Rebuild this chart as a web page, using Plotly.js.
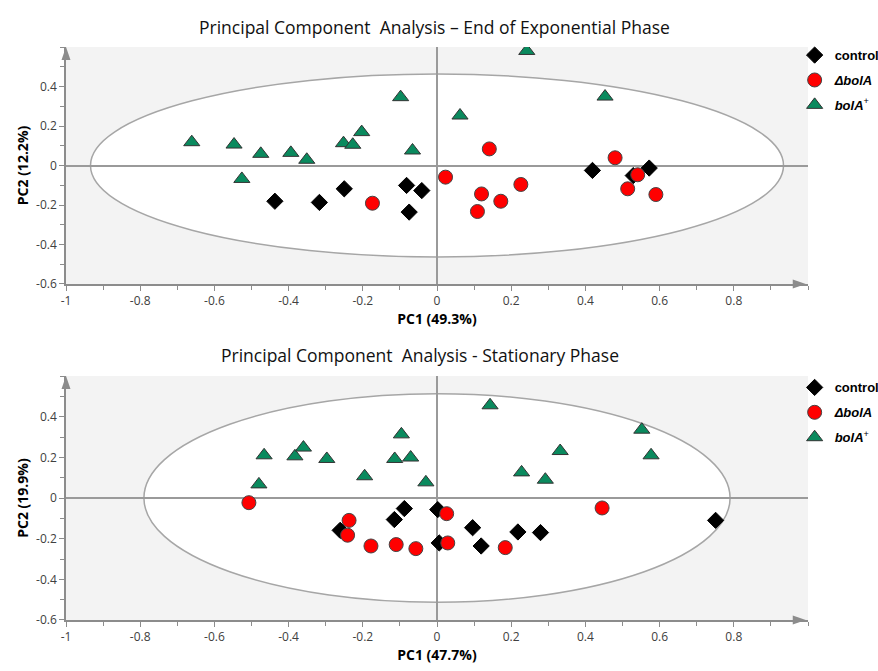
<!DOCTYPE html>
<html>
<head>
<meta charset="utf-8">
<script src="https://cdn.plot.ly/plotly-3.0.1.min.js"></script>
<style>html,body{margin:0;padding:0;background:#fff;}#chart{width:878px;height:671px;}</style>
</head>
<body>
<div id="chart"></div>
<script>
// ---- Series names ----
const seriesNames = ['<b>control</b>', '<b><i>\u0394bolA</i></b>', '<b><i>bolA</i></b><sup>+</sup>'];

// ---- Top panel: End of Exponential Phase ----
const expControlX = [-0.437, -0.317, -0.250, -0.082, -0.041, -0.075, 0.419, 0.572, 0.529];
const expControlY = [-0.181, -0.187, -0.118, -0.101, -0.127, -0.236, -0.025, -0.013, -0.051];
const expDeltaX = [-0.174, 0.023, 0.141, 0.120, 0.109, 0.172, 0.226, 0.480, 0.541, 0.514, 0.590];
const expDeltaY = [-0.191, -0.059, 0.084, -0.144, -0.233, -0.181, -0.096, 0.039, -0.047, -0.118, -0.147];
const expPlusX = [-0.661, -0.547, -0.475, -0.394, -0.351, -0.526, -0.252, -0.227, -0.203, -0.098, -0.066, 0.062, 0.242, 0.453];
const expPlusY = [0.118, 0.106, 0.059, 0.064, 0.029, -0.068, 0.113, 0.105, 0.169, 0.346, 0.076, 0.253, 0.580, 0.349];
const expEllipse = [0.934, 0.463]; // semi-axes (PC1, PC2)

// ---- Bottom panel: Stationary Phase ----
const staControlX = [-0.261, -0.115, -0.088, 0.002, 0.006, 0.096, 0.119, 0.218, 0.279, 0.751];
const staControlY = [-0.159, -0.106, -0.052, -0.057, -0.221, -0.146, -0.236, -0.167, -0.170, -0.110];
const staDeltaX = [-0.507, -0.237, -0.241, -0.178, -0.110, -0.057, 0.026, 0.029, 0.184, 0.445];
const staDeltaY = [-0.023, -0.110, -0.183, -0.236, -0.229, -0.249, -0.077, -0.221, -0.244, -0.049];
const staPlusX = [-0.480, -0.466, -0.383, -0.360, -0.297, -0.195, -0.114, -0.096, -0.071, -0.030, 0.143, 0.228, 0.292, 0.332, 0.552, 0.577];
const staPlusY = [0.067, 0.210, 0.205, 0.248, 0.192, 0.107, 0.192, 0.313, 0.199, 0.077, 0.456, 0.126, 0.090, 0.231, 0.336, 0.210];
const staEllipse = [0.790, 0.513];

// ---- Tick labels ----
const xTickVals = [-1, -0.8, -0.6, -0.4, -0.2, 0, 0.2, 0.4, 0.6, 0.8];
const xTickText = ['-1', '-0.8', '-0.6', '-0.4', '-0.2', '0', '0.2', '0.4', '0.6', '0.8'];
const yTickVals = [-0.6, -0.4, -0.2, 0, 0.2, 0.4];
const yTickText = ['-0.6', '-0.4', '-0.2', '0', '0.2', '0.4'];

const titles = {
  top: 'Principal Component  Analysis \u2013 End of Exponential Phase',
  bottom: 'Principal Component  Analysis - Stationary Phase',
  x1: '<b>PC1 (49.3%)</b>', y1: '<b>PC2 (12.2%)</b>',
  x2: '<b>PC1 (47.7%)</b>', y2: '<b>PC2 (19.9%)</b>'
};

const styles = [
  {symbol: 'diamond', size: 12.5, color: '#000000', line: {color: '#000000', width: 1}},
  {symbol: 'circle', size: 14, color: '#ff0000', line: {color: '#444444', width: 1}},
  {symbol: 'triangle-up', size: 14, color: '#0a8a5e', line: {color: '#333333', width: 1}}
];

function mk(x, y, i, xa, ya, leg) {
  return {
    type: 'scatter', mode: 'markers', x: x, y: y, name: seriesNames[i],
    xaxis: xa, yaxis: ya, legend: leg, legendgroup: leg + i,
    marker: {symbol: styles[i].symbol, size: styles[i].size, color: styles[i].color, line: styles[i].line},
    hoverinfo: 'x+y'
  };
}

const data = [
  mk(expControlX, expControlY, 0, 'x', 'y', 'legend'),
  mk(expDeltaX, expDeltaY, 1, 'x', 'y', 'legend'),
  mk(expPlusX, expPlusY, 2, 'x', 'y', 'legend'),
  mk(staControlX, staControlY, 0, 'x2', 'y2', 'legend2'),
  mk(staDeltaX, staDeltaY, 1, 'x2', 'y2', 'legend2'),
  mk(staPlusX, staPlusY, 2, 'x2', 'y2', 'legend2')
];

const tickFont = {family: 'Open Sans, sans-serif', size: 12, color: '#404040'};
const axTitleFont = {family: 'Open Sans, sans-serif', size: 14, color: '#000'};
const axisColor = '#8c8c8c';

const topDomain = [0.5864, 1];
const bottomDomain = [0, 0.4258];

function xAxis(anchor, title) {
  return {
    anchor: anchor, domain: [0, 1], range: [-1, 1], fixedrange: true,
    tickvals: xTickVals, ticktext: xTickText, ticks: 'outside', ticklen: 5, tickcolor: axisColor, tickwidth: 1,
    minor: {dtick: 0.1, tick0: 0, ticks: 'outside', ticklen: 4, tickcolor: axisColor},
    showgrid: false, zeroline: true, zerolinecolor: '#9a9a9a', zerolinewidth: 1.5,
    showline: true, linecolor: axisColor, linewidth: 1.5,
    tickfont: tickFont, automargin: false,
    title: {text: title, font: axTitleFont, standoff: 6}
  };
}
function yAxis(anchor, domain, title) {
  return {
    anchor: anchor, domain: domain, range: [-0.6, 0.6], fixedrange: true,
    tickvals: yTickVals, ticktext: yTickText, ticks: 'outside', ticklen: 5, tickcolor: axisColor, tickwidth: 1,
    minor: {dtick: 0.1, tick0: 0, ticks: 'outside', ticklen: 4, tickcolor: axisColor},
    showgrid: false, zeroline: true, zerolinecolor: '#9a9a9a', zerolinewidth: 1.5,
    showline: true, linecolor: axisColor, linewidth: 1.5,
    tickfont: tickFont, automargin: false,
    title: {text: title, font: axTitleFont, standoff: 4}
  };
}

// arrowheads at the end of each axis line (paper-anchored, pixel-sized)
function arrowRight(yPaper) {
  return {type: 'path', xref: 'paper', yref: 'paper', xsizemode: 'pixel', ysizemode: 'pixel',
    xanchor: 0.997, yanchor: yPaper, path: 'M0,0 L-13,4.5 L-13,-4.5 Z',
    fillcolor: axisColor, line: {width: 0}, layer: 'above'};
}
function arrowUp(yPaper) {
  return {type: 'path', xref: 'paper', yref: 'paper', xsizemode: 'pixel', ysizemode: 'pixel',
    xanchor: 0, yanchor: yPaper, path: 'M0,0 L-4.5,-13 L4.5,-13 Z',
    fillcolor: axisColor, line: {width: 0}, layer: 'above'};
}

const legendFont = {family: 'Liberation Sans, Arial, sans-serif', size: 13, color: '#000'};

const layout = {
  width: 878, height: 671,
  margin: {l: 66, r: 70, t: 47, b: 51, autoexpand: false},
  paper_bgcolor: '#ffffff', plot_bgcolor: '#f3f3f3',
  showlegend: true,
  xaxis: xAxis('y', titles.x1),
  yaxis: yAxis('x', topDomain, titles.y1),
  xaxis2: xAxis('y2', titles.x2),
  yaxis2: yAxis('x2', bottomDomain, titles.y2),
  legend: {x: 0.982, xanchor: 'left', y: 1.012, yanchor: 'top', font: legendFont, bgcolor: 'rgba(0,0,0,0)',
    traceorder: 'grouped', tracegroupgap: 5, itemclick: false, itemdoubleclick: false},
  legend2: {x: 0.982, xanchor: 'left', y: 0.432, yanchor: 'top', font: legendFont, bgcolor: 'rgba(0,0,0,0)',
    traceorder: 'grouped', tracegroupgap: 5, itemclick: false, itemdoubleclick: false},
  shapes: [
    {type: 'circle', xref: 'x', yref: 'y', x0: -expEllipse[0], x1: expEllipse[0], y0: -expEllipse[1], y1: expEllipse[1],
      fillcolor: '#ffffff', line: {color: '#a6a6a6', width: 1.5}, layer: 'below'},
    {type: 'circle', xref: 'x2', yref: 'y2', x0: -staEllipse[0], x1: staEllipse[0], y0: -staEllipse[1], y1: staEllipse[1],
      fillcolor: '#ffffff', line: {color: '#a6a6a6', width: 1.5}, layer: 'below'},
    arrowRight(topDomain[0]),
    arrowUp(topDomain[1]),
    arrowRight(bottomDomain[0]),
    arrowUp(bottomDomain[1])
  ],
  annotations: [
    {xref: 'paper', yref: 'paper', x: 0.496, y: 1, yshift: 20, yanchor: 'middle', showarrow: false,
      text: titles.top, font: {family: 'Open Sans, sans-serif', size: 17.5, color: '#111'}},
    {xref: 'paper', yref: 'paper', x: 0.477, y: 0.4258, yshift: 21, yanchor: 'middle', showarrow: false,
      text: titles.bottom, font: {family: 'Open Sans, sans-serif', size: 17.5, color: '#111'}}
  ]
};

Plotly.newPlot('chart', data, layout, {displayModeBar: false, staticPlot: false});
</script>
</body>
</html>
